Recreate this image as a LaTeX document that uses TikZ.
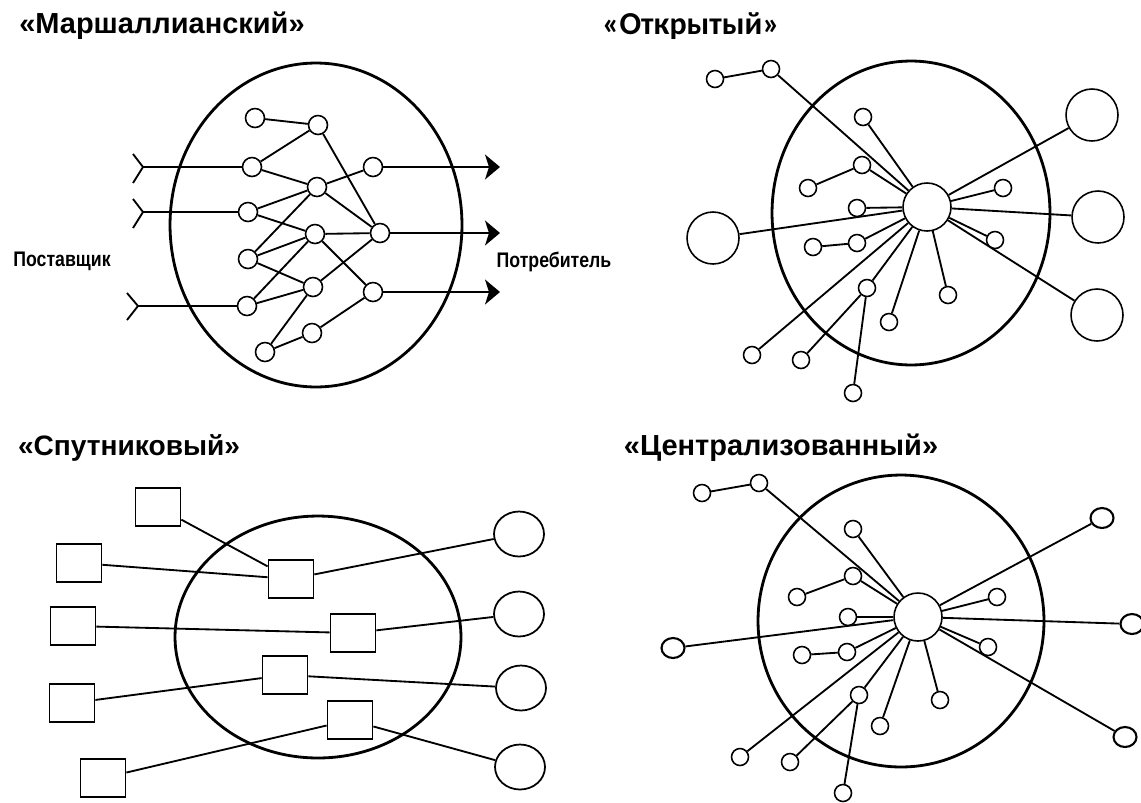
\documentclass[tikz,border=0pt]{standalone}
\usepackage{fontspec}
\setmainfont{Liberation Sans}
\newfontfamily\narrowfont[FakeStretch=0.84]{Liberation Sans}
\newfontfamily\calfont{Carlito}
\usetikzlibrary{arrows.meta,shapes.geometric}

\begin{document}
\begin{tikzpicture}[x=0.02cm, y=-0.02cm,
        ring/.style={line width=1.6pt},
        ln/.style={line width=1.05pt},
        sn/.style={circle, draw, line width=0.9pt, fill=white, inner sep=0pt, minimum size=0.38cm},
        tn/.style={circle, draw, line width=0.9pt, fill=white, inner sep=0pt, minimum size=0.34cm},
        hn/.style={circle, draw, line width=0.9pt, fill=white, inner sep=0pt, minimum size=0.96cm},
        bn/.style={circle, draw, line width=0.9pt, fill=white, inner sep=0pt, minimum size=1.04cm},
        onode/.style={ellipse, draw, line width=1.2pt, fill=white, inner sep=0pt, minimum width=0.46cm, minimum height=0.40cm},
        firm/.style={rectangle, draw, line width=1pt, fill=white, inner sep=0pt, minimum width=0.9cm, minimum height=0.76cm},
        client/.style={ellipse, draw, line width=1pt, fill=white, inner sep=0pt, minimum width=1.0cm, minimum height=0.9cm},
        title/.style={inner sep=0pt, font=\bfseries\fontsize{16.5}{18}\selectfont},
        side/.style={inner sep=0pt, font=\narrowfont\bfseries\fontsize{12}{14}\selectfont},
        outarrow/.style={ln, -{Stealth[length=0.3cm, width=0.5cm, inset=0.08cm]}}
    ]
    \useasboundingbox (0,0) rectangle (1141,802);

    % Заголовки
    \node[title] (tM) at (162,26) {«Маршаллианский»};
    \node[title, font=\calfont\bfseries\fontsize{18.2}{20}\selectfont] (tO) at (691,26) {«Открытый»};
    \node[title, font=\bfseries\fontsize{16}{18}\selectfont] (tS) at (129,448) {«Спутниковый»};
    \node[title] (tC) at (781,448) {«Централизованный»};

    % «Маршаллианский»
    \draw[ring] (316,225) ellipse [x radius=2.92cm, y radius=3.24cm];
    \node[side] (sup) at (62,261) {Поставщик};
    \node[side] (cons) at (554,262) {Потребитель};
    \node[sn] (ma1) at (255,118) {};
    \node[sn] (ma2) at (318,125) {};
    \node[sn] (mb1) at (252,167) {};
    \node[sn] (mb2) at (317,187) {};
    \node[sn] (mc1) at (373,167) {};
    \node[sn] (mb3) at (248,212) {};
    \node[sn] (mb4) at (315,234) {};
    \node[sn] (mc2) at (380,233) {};
    \node[sn] (mb5) at (248,259) {};
    \node[sn] (mb6) at (313,287) {};
    \node[sn] (mc3) at (373,292) {};
    \node[sn] (mb7) at (247,306) {};
    \node[sn] (mb8) at (312,333) {};
    \node[sn] (mb9) at (265,352) {};
    \coordinate (in1) at (143,167);
    \coordinate (in2) at (143,212);
    \coordinate (in3) at (138,306);
    \coordinate (out1) at (500,167);
    \coordinate (out2) at (500,233);
    \coordinate (out3) at (500,292);

    \draw[ln] (ma1) -- (ma2);
    \draw[ln] (ma2) -- (mb1);
    \draw[ln] (ma2) -- (mc2);
    \draw[ln] (mb1) -- (mb2);
    \draw[ln] (mb2) -- (mc1);
    \draw[ln] (mb2) -- (mc2);
    \draw[ln] (mb3) -- (mb2);
    \draw[ln] (mb3) -- (mb4);
    \draw[ln] (mb5) -- (mb2);
    \draw[ln] (mb5) -- (mb4);
    \draw[ln] (mb5) -- (mb6);
    \draw[ln] (mb7) -- (mb4);
    \draw[ln] (mb7) -- (mb6);
    \draw[ln] (mb4) -- (mc2);
    \draw[ln] (mb4) -- (mc3);
    \draw[ln] (mb6) -- (mc2);
    \draw[ln] (mb9) -- (mb6);
    \draw[ln] (mb9) -- (mb8);
    \draw[ln] (mb8) -- (mc3);

    % входы и выходы
    \draw[ln] (in1) -- (mb1);
    \draw[ln] (in2) -- (mb3);
    \draw[ln] (in3) -- (mb7);
    \draw[ln] (in1) -- ++(-10,-13) (in1) -- ++(-10,16);
    \draw[ln] (in2) -- ++(-10,-13) (in2) -- ++(-10,16);
    \draw[ln] (in3) -- ++(-11,-13) (in3) -- ++(-11,14);
    \draw[outarrow] (mc1) -- (out1);
    \draw[outarrow] (mc2) -- (out2);
    \draw[outarrow] (mc3) -- (out3);

    % «Открытый»
    \draw[ring] (911,213) ellipse [x radius=2.78cm, y radius=3.04cm];
    \node[hn] (oHub) at (927,207) {};
    \node[bn] (oL1) at (713,238) {};
    \node[bn] (oR1) at (1092,115) {};
    \node[bn] (oR2) at (1098,217) {};
    \node[bn] (oR3) at (1097,315) {};
    \node[tn] (os1) at (715,79) {};
    \node[tn] (os2) at (771,69) {};
    \node[tn] (os3) at (863,117) {};
    \node[tn] (os4) at (862,165) {};
    \node[tn] (os5) at (808,188) {};
    \node[tn] (os6) at (857,208) {};
    \node[tn] (os7) at (1003,188) {};
    \node[tn] (os8) at (813,247) {};
    \node[tn] (os9) at (857,243) {};
    \node[tn] (os10) at (995,240) {};
    \node[tn] (os11) at (867,288) {};
    \node[tn] (os12) at (948,295) {};
    \node[tn] (os13) at (889,322) {};
    \node[tn] (os14) at (752,355) {};
    \node[tn] (os15) at (801,360) {};
    \node[tn] (os16) at (853,393) {};
    \draw[ln] (os1) -- (os2);
    \draw[ln] (os5) -- (os4);
    \draw[ln] (os8) -- (os9);
    \draw[ln] (os15) -- (os11);
    \draw[ln] (os16) -- (os11);
    \foreach \n in {oL1,oR1,oR2,oR3,os2,os3,os4,os6,os7,os9,os10,os11,os12,os13,os14}
        \draw[ln] (oHub) -- (\n);

    % «Спутниковый»
    \draw[ring] (318,637) ellipse [x radius=2.86cm, y radius=2.42cm];
    \node[firm] (sq1) at (158,507) {};
    \node[firm] (sq2) at (79,563) {};
    \node[firm] (sq3) at (73,626) {};
    \node[firm] (sq4) at (72,703) {};
    \node[firm] (sq5) at (103,778) {};
    \node[firm] (sp1) at (291,579) {};
    \node[firm] (sp2) at (353,633) {};
    \node[firm] (sp3) at (285,675) {};
    \node[firm] (sp4) at (350,720) {};
    \node[client] (sc1) at (519,534) {};
    \node[client] (sc2) at (519,614) {};
    \node[client] (sc3) at (521,688) {};
    \node[client] (sc4) at (520,767) {};
    \draw[ln] (sq1) -- (sp1);
    \draw[ln] (sq2) -- (sp1);
    \draw[ln] (sp1) -- (sc1);
    \draw[ln] (sq3) -- (sp2);
    \draw[ln] (sp2) -- (sc2);
    \draw[ln] (sq4) -- (sp3);
    \draw[ln] (sp3) -- (sc3);
    \draw[ln] (sq5) -- (sp4);
    \draw[ln] (sp4) -- (sc4);

    % «Централизованный»
    \draw[ring] (901,621) ellipse [x radius=2.86cm, y radius=2.92cm];
    \node[hn] (zHub) at (918,617) {};
    \node[onode] (zL1) at (673,648) {};
    \node[onode] (zR1) at (1102,518) {};
    \node[onode] (zR2) at (1132,624) {};
    \node[onode] (zR3) at (1125,737) {};
    \node[tn] (zs1) at (702,493) {};
    \node[tn] (zs2) at (759,483) {};
    \node[tn] (zs3) at (853,529) {};
    \node[tn] (zs4) at (853,576) {};
    \node[tn] (zs5) at (797,597) {};
    \node[tn] (zs6) at (848,617) {};
    \node[tn] (zs7) at (997,597) {};
    \node[tn] (zs8) at (802,655) {};
    \node[tn] (zs9) at (847,652) {};
    \node[tn] (zs10) at (988,647) {};
    \node[tn] (zs11) at (859,695) {};
    \node[tn] (zs12) at (940,700) {};
    \node[tn] (zs13) at (880,726) {};
    \node[tn] (zs14) at (740,757) {};
    \node[tn] (zs15) at (790,762) {};
    \node[tn] (zs16) at (843,793) {};
    \draw[ln] (zs1) -- (zs2);
    \draw[ln] (zs5) -- (zs4);
    \draw[ln] (zs8) -- (zs9);
    \draw[ln] (zs15) -- (zs11);
    \draw[ln] (zs16) -- (zs11);
    \foreach \n in {zL1,zR1,zR2,zR3,zs2,zs3,zs4,zs6,zs7,zs9,zs10,zs11,zs12,zs13,zs14}
        \draw[ln] (zHub) -- (\n);
\end{tikzpicture}
\end{document}
